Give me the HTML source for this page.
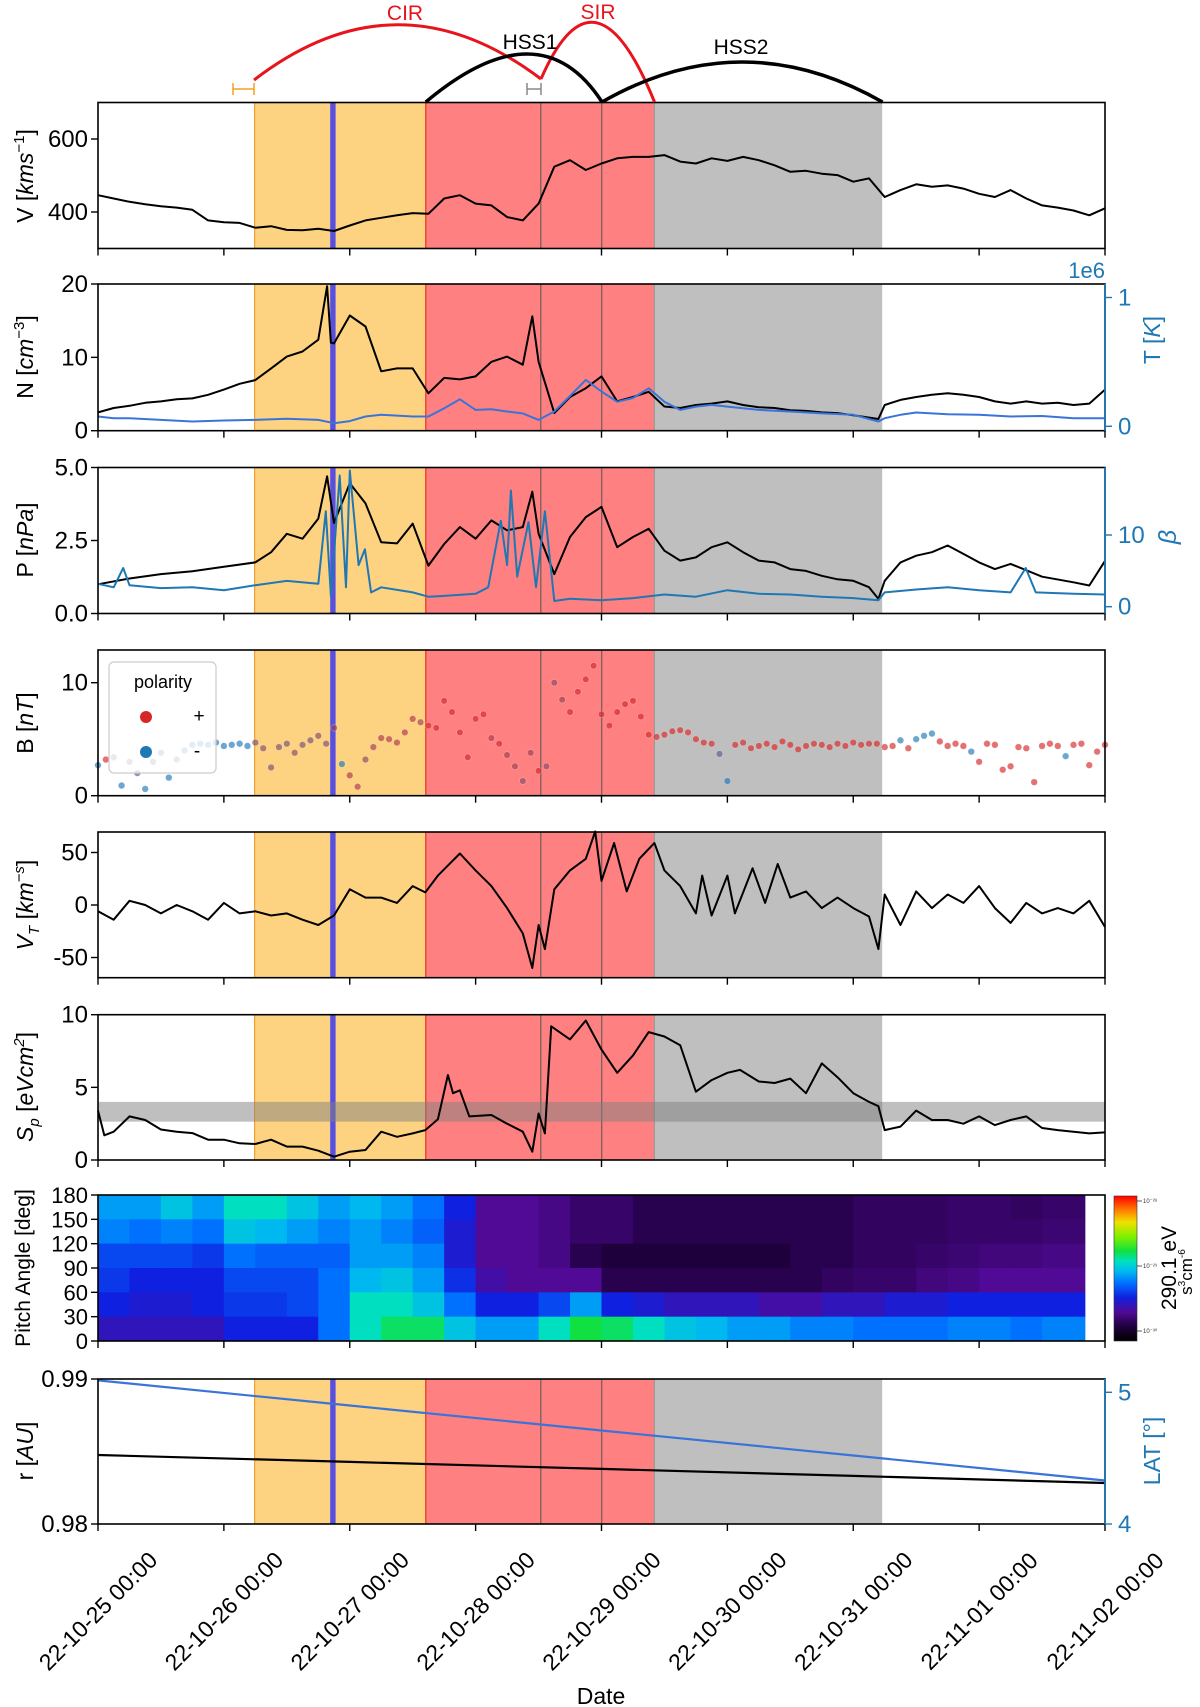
<!DOCTYPE html>
<html><head><meta charset="utf-8"><title>Solar wind overview</title>
<style>
html,body{margin:0;padding:0;background:#fff;}
svg{display:block;font-family:"Liberation Sans","DejaVu Sans",sans-serif;}
</style></head>
<body>
<svg id="chart" width="1200" height="1707" viewBox="0 0 1200 1707" xmlns="http://www.w3.org/2000/svg">
<defs>
<linearGradient id="cmap" x1="0" y1="1" x2="0" y2="0">
<stop offset="0" stop-color="#000000"/><stop offset="0.1" stop-color="#1e003c"/><stop offset="0.2" stop-color="#500a96"/><stop offset="0.3" stop-color="#1020e0"/><stop offset="0.4" stop-color="#0070ff"/><stop offset="0.48" stop-color="#00b8f0"/><stop offset="0.55" stop-color="#00e0c0"/><stop offset="0.62" stop-color="#10e040"/><stop offset="0.72" stop-color="#80f000"/><stop offset="0.82" stop-color="#f0e000"/><stop offset="0.9" stop-color="#ff8000"/><stop offset="1" stop-color="#ff0000"/>
</linearGradient>
</defs>
<g id="annot">
<path d="M254,80 Q397,-30 541,79" fill="none" stroke="#e8141c" stroke-width="3"/>
<path d="M541,79 Q595,-45 654.5,102" fill="none" stroke="#e8141c" stroke-width="3"/>
<path d="M425.8,102 Q540,6 602,102" fill="none" stroke="#000" stroke-width="3.5"/>
<path d="M602,102 Q742,22 882.5,102" fill="none" stroke="#000" stroke-width="3.5"/>
<text x="405" y="20" font-size="21" fill="#e8141c" text-anchor="middle">CIR</text>
<text x="598" y="19" font-size="21" fill="#e8141c" text-anchor="middle">SIR</text>
<text x="530" y="49" font-size="21" fill="#000" text-anchor="middle">HSS1</text>
<text x="741" y="54" font-size="21" fill="#000" text-anchor="middle">HSS2</text>
<path d="M233,89 H254 M233,83 V95 M254,83 V95" stroke="#f5a020" stroke-width="1.5" fill="none"/>
<path d="M527,89 H541 M527,83 V95 M541,83 V95" stroke="#888" stroke-width="1.5" fill="none"/>
</g>
</svg>
<script>
// ---------- data ----------
const vStep = 0.125;
const vValues = [446,437,428,421,416,412,406,377,372,370,357,361,351,350,354,348,363,377,384,391,397,395,437,446,423,418,386,377,423,524,542,515,533,547,551,551,556,538,533,547,540,551,542,528,510,513,505,501,483,492,441,460,476,469,473,464,450,441,460,437,418,412,404,391,410];

const nTimes = [0,0.125,0.25,0.375,0.5,0.625,0.75,0.875,1,1.125,1.25,1.375,1.5,1.625,1.75,1.82,1.85,1.875,2,2.125,2.25,2.375,2.5,2.625,2.75,2.875,3,3.125,3.25,3.375,3.45,3.5,3.625,3.75,3.875,4,4.125,4.25,4.375,4.5,4.625,4.75,4.875,5,5.125,5.25,5.375,5.5,5.625,5.75,5.875,6,6.2,6.25,6.375,6.5,6.625,6.75,6.875,7,7.125,7.25,7.375,7.5,7.625,7.75,7.875,8];
const nValues = [2.5,3.1,3.4,3.8,4.0,4.3,4.4,4.9,5.6,6.4,6.9,8.5,10.1,10.8,12.4,19.7,12.0,11.9,15.7,14.2,8.1,8.5,8.5,5.1,7.2,7.0,7.4,9.4,10.1,9.0,15.6,9.4,2.4,4.6,5.8,7.4,4.0,4.6,5.3,3.3,3.1,3.5,3.7,4.0,3.5,3.2,3.1,2.8,2.7,2.5,2.4,2.1,1.6,3.5,4.2,4.6,4.9,5.1,4.9,4.6,4.0,3.7,4.0,3.7,3.8,3.5,3.7,5.6];

const tTimes = [0,0.125,0.25,0.5,0.75,1,1.25,1.5,1.75,1.875,2,2.125,2.25,2.5,2.625,2.75,2.875,3,3.125,3.25,3.375,3.5,3.625,3.75,3.875,4,4.125,4.25,4.375,4.5,4.625,4.75,4.875,5,5.125,5.25,5.5,5.75,6,6.2,6.25,6.375,6.5,6.75,7,7.25,7.5,7.75,8];
const tValues = [0.076,0.063,0.063,0.05,0.037,0.045,0.05,0.058,0.05,0.024,0.04,0.076,0.089,0.076,0.076,0.14,0.21,0.127,0.133,0.115,0.10,0.05,0.115,0.235,0.36,0.27,0.19,0.22,0.295,0.19,0.127,0.153,0.166,0.153,0.14,0.127,0.115,0.10,0.089,0.037,0.063,0.089,0.107,0.094,0.089,0.076,0.08,0.063,0.063];

const pTimes = [0,0.25,0.5,0.75,1,1.25,1.375,1.5,1.625,1.75,1.82,1.875,2,2.125,2.25,2.375,2.5,2.625,2.75,2.875,3,3.125,3.25,3.375,3.45,3.5,3.625,3.75,3.875,4,4.125,4.25,4.375,4.5,4.625,4.75,4.875,5,5.125,5.25,5.375,5.5,5.625,5.75,5.875,6,6.125,6.2,6.25,6.375,6.5,6.625,6.75,6.875,7,7.125,7.25,7.5,7.75,7.875,8];
const pValues = [1.0,1.2,1.35,1.45,1.6,1.75,2.1,2.73,2.56,3.25,4.7,3.1,4.46,3.77,2.44,2.4,3.08,1.64,2.38,2.96,2.56,3.19,2.85,2.96,4.17,2.73,1.35,2.62,3.3,3.65,2.27,2.62,2.9,2.15,1.81,1.92,2.27,2.44,2.1,1.81,1.75,1.52,1.46,1.29,1.17,1.12,0.9,0.5,1.12,1.75,1.98,2.1,2.33,2.04,1.75,1.52,1.7,1.26,1.07,0.96,1.8];

const betaTimes = [0,0.125,0.2,0.25,0.5,0.75,1,1.25,1.5,1.75,1.81,1.85,1.92,1.97,2,2.07,2.12,2.17,2.25,2.5,2.625,2.75,3,3.1,3.2,3.25,3.28,3.33,3.42,3.48,3.55,3.625,3.75,4,4.25,4.5,4.75,5,5.25,5.5,5.75,6,6.2,6.25,6.5,6.75,7,7.25,7.37,7.45,7.75,8];
const betaValues = [3.2,2.7,5.4,3.0,2.6,2.7,2.3,3.0,3.6,3.2,13.3,1.5,18.3,2.7,19,5.8,8,2,2.7,2.0,1.4,1.5,1.8,2.7,12,5.8,16.2,4.2,11.8,2.7,13.3,0.8,1.1,0.9,1.2,1.7,1.4,2.3,1.8,1.7,1.4,1.2,0.9,2.0,2.4,2.7,2.3,2.0,5.4,2.0,1.8,1.7];

const bStep = 0.0625;
const bValues = [2.7,3.2,3.4,0.9,3.0,2.0,0.6,3.0,
 3.8,1.6,3.2,4.0,4.5,4.6,4.5,4.7,4.4,4.5,4.6,4.4,
 4.7,4.2,2.5,4.3,4.6,3.8,4.5,4.9,5.3,4.6,
 6.0,2.8,
 1.8,0.8,3.2,4.3,5.1,5.0,4.7,5.6,6.8,6.5,
 6.2,6.0,8.4,7.4,5.6,3.4,6.8,7.2,5.1,4.6,3.6,2.6,1.3,3.8,
 2.2,2.6,10.0,8.5,7.4,9.2,10.3,11.5,
 7.2,6.2,7.4,8.1,8.4,7.0,5.4,
 5.2,5.4,5.7,5.8,5.6,5.0,4.7,4.6,3.7,1.3,4.5,4.7,4.2,4.4,4.6,4.3,4.8,4.5,4.1,4.4,4.6,4.5,4.3,4.6,4.4,4.7,4.5,4.6,
 4.6,4.3,4.4,4.9,4.2,5.0,5.3,5.5,4.8,4.4,4.6,4.4,3.9,3.0,4.6,4.5,2.3,2.6,4.3,4.2,1.2,4.4,4.6,4.4,3.5,4.5,4.6,2.7,3.9,4.5];
const bPolarity = [0,1,0.5,0,0.4,0.3,0,0.3,
 0.3,0,0.2,0,0,0,0,0,0,0,0,0,
 0.5,0.6,0.5,0.5,0.5,0.6,0.5,0.5,0.6,0.5,
 0.7,0,
 0.8,0.8,0.6,0.7,0.8,0.8,0.8,0.8,0.8,0.7,
 1,1,1,1,1,1,1,1,0.8,1,0.7,0.7,0.6,0.7,
 1,0.6,0.6,0.7,1,1,1,1,
 1,1,1,1,1,1,1,
 1,1,1,1,1,1,1,1,0.3,0,1,1,1,1,1,1,1,1,1,1,1,1,1,1,1,1,1,1,
 1,1,1,0,1,0,0,0,1,1,1,1,0,1,1,1,1,1,1,1,1,1,1,1,0,1,1,1,1,1];

const vtTimes = [0,0.125,0.25,0.375,0.5,0.625,0.75,0.875,1,1.125,1.25,1.375,1.5,1.625,1.75,1.875,2,2.125,2.25,2.375,2.5,2.6,2.7,2.875,3,3.125,3.25,3.375,3.45,3.5,3.55,3.625,3.75,3.875,3.95,4,4.1,4.2,4.3,4.42,4.5,4.625,4.75,4.8,4.875,5,5.06,5.2,5.3,5.4,5.5,5.625,5.75,5.875,6,6.125,6.2,6.25,6.375,6.5,6.625,6.75,6.875,7,7.125,7.25,7.375,7.5,7.625,7.75,7.875,8];
const vtValues = [-6,-14,4,0,-8,0,-6,-14,2,-8,-6,-10,-8,-14,-19,-10,15,7,7,2,18,12,28,49,33,18,-3,-27,-60,-19,-42,15,33,44,70,23,59,13,44,59,33,18,-8,28,-10,28,-8,35,2,39,7,13,-3,7,-3,-11,-42,10,-19,13,-3,10,2,18,-3,-17,2,-8,-3,-8,4,-21];

const spTimes = [0,0.05,0.125,0.25,0.375,0.5,0.625,0.75,0.875,1,1.125,1.25,1.375,1.5,1.625,1.75,1.875,2,2.125,2.25,2.375,2.5,2.6,2.7,2.78,2.82,2.875,2.95,3.125,3.25,3.375,3.45,3.5,3.55,3.6,3.75,3.875,4,4.125,4.25,4.375,4.5,4.625,4.75,4.875,5,5.1,5.25,5.375,5.5,5.625,5.75,5.875,6,6.125,6.2,6.25,6.375,6.5,6.625,6.75,6.875,7,7.125,7.25,7.375,7.5,7.625,7.75,7.875,8];
const spValues = [3.4,1.7,1.95,3.0,2.75,2.1,1.95,1.85,1.4,1.4,1.15,1.1,1.4,0.92,0.92,0.64,0.23,0.57,0.69,1.95,1.6,1.83,2.06,2.8,5.85,4.6,4.8,3.0,3.1,2.5,1.95,0.57,3.2,1.83,9.2,8.3,9.6,7.6,6.0,7.2,8.8,8.5,7.9,4.7,5.5,6.0,6.2,5.4,5.3,5.6,4.6,6.65,5.7,4.6,4.0,3.7,2.06,2.3,3.4,2.75,2.75,2.5,3.0,2.4,2.75,3.0,2.2,2.06,1.95,1.83,1.9];
const spBand = [2.64, 4.0];

// pitch-angle distribution: columns every 0.25 day, rows top (150-180) to bottom (0-30), normalized log flux
const pitchColStep = 0.25;
const pitchEnd = 7.84;
const pitchBinCenters = [165,135,105,75,45,15];
const pitchGrid = [
 [0.45,0.42,0.35,0.33,0.3,0.25],[0.45,0.4,0.35,0.3,0.28,0.25],[0.5,0.42,0.35,0.3,0.28,0.25],[0.45,0.4,0.33,0.3,0.3,0.25],
 [0.55,0.5,0.4,0.35,0.33,0.3],[0.55,0.48,0.38,0.35,0.33,0.3],[0.5,0.45,0.38,0.35,0.35,0.3],[0.45,0.42,0.38,0.4,0.4,0.4],
 [0.48,0.45,0.45,0.48,0.55,0.55],[0.45,0.42,0.45,0.5,0.55,0.6],[0.4,0.38,0.42,0.45,0.5,0.6],[0.3,0.28,0.28,0.32,0.4,0.5],
 [0.2,0.2,0.2,0.22,0.3,0.45],[0.2,0.2,0.2,0.2,0.3,0.45],[0.18,0.18,0.18,0.2,0.35,0.55],[0.15,0.15,0.12,0.2,0.45,0.62],
 [0.15,0.15,0.1,0.12,0.3,0.6],[0.12,0.12,0.1,0.12,0.28,0.55],[0.12,0.12,0.1,0.12,0.25,0.5],[0.12,0.12,0.1,0.12,0.25,0.48],
 [0.12,0.12,0.1,0.12,0.25,0.45],[0.12,0.12,0.1,0.12,0.22,0.45],[0.12,0.12,0.12,0.12,0.22,0.42],[0.12,0.12,0.12,0.14,0.25,0.42],
 [0.14,0.14,0.14,0.15,0.25,0.4],[0.14,0.14,0.14,0.15,0.28,0.4],[0.14,0.14,0.15,0.17,0.28,0.4],[0.15,0.15,0.16,0.18,0.3,0.42],
 [0.15,0.15,0.17,0.2,0.3,0.42],[0.14,0.15,0.17,0.2,0.3,0.4],[0.15,0.16,0.18,0.2,0.3,0.42],[0.15,0.16,0.18,0.2,0.3,0.42]];

const rTimes = [0,2,4,6,8];
const rValues = [0.98476,0.98428,0.98380,0.98332,0.98283];
const latValues = [5.09,4.90,4.71,4.52,4.33];

const dateLabels = ['22-10-25 00:00','22-10-26 00:00','22-10-27 00:00','22-10-28 00:00','22-10-29 00:00','22-10-30 00:00','22-10-31 00:00','22-11-01 00:00','22-11-02 00:00'];
const regionStarts = [1.244, 2.604, 4.42];
const regionEnds = [2.604, 4.42, 6.23];
const regionNames = ['cir-region','sir-region','hss-region'];
const eventLines = [3.518, 4.002];
const spikeTime = 1.866;

// ---------- rendering ----------
const svg = document.getElementById('chart');
const NS = 'http://www.w3.org/2000/svg';
function mk(tag, attrs, parent){const e=document.createElementNS(NS,tag);for(const k in attrs)e.setAttribute(k,attrs[k]);(parent||svg).appendChild(e);return e;}
function lin(d0,d1,p0,p1){return v=>p0+(v-d0)*(p1-p0)/(d1-d0);}
const X0=98, X1=1105;
const xs = lin(0,8,X0,X1);
const BLUE='#1f77b4';
const regionFill = ['#fdd382','#ff8080','#bfbfbf'];
const regionEdge = ['#f0a030','#e83020','#999'];

function panel(name, top, bottom, withRegions){
  const g = mk('g',{});
  
  
  if(withRegions){
    for(let i=0;i<regionStarts.length;i++){
      const r = mk('rect',{x:xs(regionStarts[i]),y:top,width:xs(regionEnds[i])-xs(regionStarts[i]),height:bottom-top,fill:regionFill[i]},g);
      
      
      const e = mk('line',{x1:xs(regionStarts[i]),x2:xs(regionStarts[i]),y1:top,y2:bottom,stroke:regionEdge[i],'stroke-width':1.2},g);
      
      
    }
    for(const t of eventLines){
      const l = mk('line',{x1:xs(t),x2:xs(t),y1:top,y2:bottom,stroke:'#555','stroke-width':1},g);
      
      
    }
    const s = mk('rect',{x:xs(spikeTime)-2.5,y:top,width:5,height:bottom-top,fill:'#5a4fd8',stroke:'#7a6fe0','stroke-width':0.8},g);
    
    
  }
  return g;
}
function frame(g, top, bottom, rightColor){
  const f = mk('rect',{x:X0,y:top,width:X1-X0,height:bottom-top,fill:'none',stroke:'#000','stroke-width':1.6},g);
  
  
  if(rightColor){
    const r = mk('line',{x1:X1,x2:X1,y1:top,y2:bottom,stroke:rightColor,'stroke-width':1.8},g);
    
    
  }
  for(let d=0; d<=8; d++){
    const t = mk('line',{x1:xs(d),x2:xs(d),y1:bottom,y2:bottom+7,stroke:'#000','stroke-width':1.4},g);
    
    
  }
}
function yTicks(g, vals, labels, ys, side, color, fs){
  for(let i=0;i<vals.length;i++){
    const y = ys(vals[i]);
    const x = side==='left'?X0:X1;
    const t = mk('line',{x1:x,x2:side==='left'?x-7:x+7,y1:y,y2:y,stroke:color,'stroke-width':1.4},g);
    
    
    const tx = mk('text',{x:side==='left'?x-10:x+13,y:y+8,'font-size':fs||24,fill:color,'text-anchor':side==='left'?'end':'start'},g);
    tx.textContent = labels[i];
    
    
  }
}
function line(g, times, vals, ys, color, w, name){
  const pts = times.map((t,i)=>xs(t).toFixed(1)+','+ys(vals[i]).toFixed(1)).join(' ');
  const p = mk('polyline',{points:pts,fill:'none',stroke:color,'stroke-width':w||2,'stroke-linejoin':'round'},g);
  
  
  return p;
}
function yLabel(g, x, y, html, color, fs, name){
  const t = mk('text',{x:x,y:y,'font-size':fs||23,fill:color||'#000','text-anchor':'middle',transform:'rotate(-90 '+x+' '+y+')'},g);
  t.innerHTML = html;
  
  
}
const annot = document.getElementById('annot');

// Panel 1: V
{
  const top=102.5, bot=248.5, ys=lin(300,700,bot,top);
  const g = panel('speed-panel', top, bot, true);
  line(g, vValues.map((v,i)=>i*vStep), vValues, ys, '#000', 2, 'speed-line');
  frame(g, top, bot);
  yTicks(g, [400,600], ['400','600'], ys, 'left', '#000');
  yLabel(g, 33, 176, 'V [<tspan font-style="italic">kms</tspan><tspan font-size="15" dy="-9">−1</tspan><tspan dy="9">]</tspan>', '#000', 23, 'speed-axis-title');
}
svg.appendChild(annot);
// Panel 2: N & T
{
  const top=284, bot=430.7, ys=lin(0,20,bot,top), yt=lin(0,1,426.3,297.5);
  const g = panel('density-panel', top, bot, true);
  line(g, nTimes, nValues, ys, '#000', 2, 'density-line');
  line(g, tTimes, tValues, yt, '#3a74d8', 2, 'temperature-line');
  frame(g, top, bot, BLUE);
  yTicks(g, [0,10,20], ['0','10','20'], ys, 'left', '#000');
  yTicks(g, [0,1], ['0','1'], yt, 'right', BLUE);
  yLabel(g, 33, 357, 'N [<tspan font-style="italic">cm</tspan><tspan font-size="15" dy="-9">−3</tspan><tspan dy="9">]</tspan>', '#000', 23, 'density-axis-title');
  yLabel(g, 1160, 340, 'T [<tspan font-style="italic">K</tspan>]', BLUE, 23, 'temperature-axis-title');
  const e = mk('text',{x:1105,y:278,'font-size':22,fill:BLUE,'text-anchor':'end'},g);
  e.textContent='1e6';
  
  
}
// Panel 3: P & beta
{
  const top=467.5, bot=613.5, ys=lin(0,5,bot,top), yb=lin(0,10,606.7,535);
  const g = panel('pressure-panel', top, bot, true);
  line(g, pTimes, pValues, ys, '#000', 2, 'pressure-line');
  line(g, betaTimes, betaValues, yb, BLUE, 2, 'beta-line');
  frame(g, top, bot, BLUE);
  yTicks(g, [0,2.5,5], ['0.0','2.5','5.0'], ys, 'left', '#000');
  yTicks(g, [0,10], ['0','10'], yb, 'right', BLUE);
  yLabel(g, 33, 540, 'P [<tspan font-style="italic">nPa</tspan>]', '#000', 23, 'pressure-axis-title');
  yLabel(g, 1176, 537, '<tspan font-style="italic">β</tspan>', BLUE, 25, 'beta-axis-title');
}
// Panel 4: B scatter
{
  const top=650, bot=795.7, ys=lin(0,10,bot,682.7);
  const g = panel('field-panel', top, bot, true);
  function polColor(p){
    const a=[31,119,180], b=[214,39,40];
    return 'rgb('+a.map((c,i)=>Math.round(c+(b[i]-c)*p)).join(',')+')';
  }
  for(let i=0;i<bValues.length;i++){
    const c = mk('circle',{cx:xs(i*bStep),cy:ys(bValues[i]),r:3.3,fill:polColor(bPolarity[i]),'fill-opacity':0.65,stroke:'#fff','stroke-width':0.4,'stroke-opacity':0.6},g);
    
    
  }
  frame(g, top, bot);
  yTicks(g, [0,10], ['0','10'], ys, 'left', '#000');
  yLabel(g, 33, 723, 'B [<tspan font-style="italic">nT</tspan>]', '#000', 23, 'field-axis-title');
  const lg = mk('g',{},g);
  
  
  const lb = mk('rect',{x:109,y:662,width:107,height:111,rx:5,fill:'#fff','fill-opacity':0.8,stroke:'#ccc','stroke-width':1.2},lg);
  
  
  const lt = mk('text',{x:163,y:688,'font-size':18,'text-anchor':'middle',fill:'#000'},lg);
  lt.textContent='polarity';
  
  
  const d1 = mk('circle',{cx:146,cy:717,r:6,fill:'#d62728'},lg);
  
  
  const t1 = mk('text',{x:199,y:722,'font-size':19,'text-anchor':'middle'},lg);
  t1.textContent='+';
  
  
  const d2 = mk('circle',{cx:146,cy:752,r:6,fill:'#1f77b4'},lg);
  
  
  const t2 = mk('text',{x:197,y:757,'font-size':19,'text-anchor':'middle'},lg);
  t2.textContent='-';
  
  
}
// Panel 5: VT
{
  const top=832, bot=977.7, ys=lin(-50,50,957.5,852.5);
  const g = panel('tangential-speed-panel', top, bot, true);
  line(g, vtTimes, vtValues, ys, '#000', 2, 'tangential-speed-line');
  frame(g, top, bot);
  yTicks(g, [-50,0,50], ['-50','0','50'], ys, 'left', '#000');
  yLabel(g, 33, 905, '<tspan font-style="italic">V</tspan><tspan font-size="15" dy="6" font-style="italic">T</tspan><tspan dy="-6"> [</tspan><tspan font-style="italic">km</tspan><tspan font-size="15" dy="-9" font-style="italic">−s</tspan><tspan dy="9">]</tspan>', '#000', 23, 'tangential-speed-axis-title');
}
// Panel 6: Sp
{
  const top=1014.7, bot=1160, ys=lin(0,10,bot,top);
  const g = panel('entropy-panel', top, bot, true);
  const band = mk('rect',{x:X0,y:ys(spBand[1]),width:X1-X0,height:ys(spBand[0])-ys(spBand[1]),fill:'#808080','fill-opacity':0.5},g);
  
  
  line(g, spTimes, spValues, ys, '#000', 2, 'entropy-line');
  frame(g, top, bot);
  yTicks(g, [0,5,10], ['0','5','10'], ys, 'left', '#000');
  yLabel(g, 33, 1087, '<tspan font-style="italic">S</tspan><tspan font-size="15" dy="6" font-style="italic">p</tspan><tspan dy="-6"> [</tspan><tspan font-style="italic">eVcm</tspan><tspan font-size="15" dy="-9" font-style="italic">2</tspan><tspan dy="9">]</tspan>', '#000', 23, 'entropy-axis-title');
}
// Panel 7: pitch angle
{
  const top=1195, bot=1341, ys=lin(0,180,bot,top);
  const g = panel('pitch-angle-panel', top, bot, false);
  const stops=[[0,[0,0,0]],[0.1,[30,0,60]],[0.2,[80,10,150]],[0.3,[16,32,224]],[0.4,[0,112,255]],[0.48,[0,184,240]],[0.55,[0,224,192]],[0.62,[16,224,64]],[0.72,[128,240,0]],[0.82,[240,224,0]],[0.9,[255,128,0]],[1,[255,0,0]]];
  function cmap(v){
    for(let i=1;i<stops.length;i++){ if(v<=stops[i][0]){ const a=stops[i-1],b=stops[i],f=(v-a[0])/(b[0]-a[0]); return 'rgb('+a[1].map((c,k)=>Math.round(c+(b[1][k]-c)*f)).join(',')+')'; } }
    return 'rgb(255,0,0)';
  }
  for(let c=0;c<pitchGrid.length;c++){
    const t0=c*pitchColStep, t1=Math.min(pitchEnd,(c+1)*pitchColStep);
    for(let r=0;r<pitchBinCenters.length;r++){
      const pa=pitchBinCenters[r];
      const cell = mk('rect',{x:xs(t0),y:ys(pa+15),width:xs(t1)-xs(t0)+0.5,height:ys(pa-15)-ys(pa+15)+0.5,fill:cmap(pitchGrid[c][r])},g);
      
      
    }
  }
  frame(g, top, bot);
  yTicks(g, [0,30,60,90,120,150,180], ['0','30','60','90','120','150','180'], ys, 'left', '#000', 22);
  yLabel(g, 30, 1268, 'Pitch Angle [deg]', '#000', 21, 'pitch-angle-axis-title');
  const cb = mk('rect',{x:1114,y:1196,width:23,height:145,fill:'url(#cmap)',stroke:'#333','stroke-width':0.6},g);
  
  
  const cbTicks=[1201,1266,1331], cbLabels=['10⁻²⁸','10⁻²⁹','10⁻³⁰'];
  for(let i=0;i<3;i++){
    const tk = mk('line',{x1:1137,x2:1142,y1:cbTicks[i],y2:cbTicks[i],stroke:'#333','stroke-width':0.8},g);
    
    
    const tl = mk('text',{x:1143,y:cbTicks[i]+2,'font-size':6,fill:'#333'},g);
    tl.textContent = cbLabels[i];
    
    
  }
  yLabel(g, 1176, 1268, '290.1 eV', '#000', 21, 'colorbar-title');
  yLabel(g, 1192, 1272, 's<tspan font-size="10" dy="-7">3</tspan><tspan dy="7">cm</tspan><tspan font-size="10" dy="-7">-6</tspan>', '#000', 17, 'colorbar-units');
}
// Panel 8: r & LAT
{
  const top=1379, bot=1524, ys=lin(0.98,0.99,bot,top), yl=lin(4,5,1524,1392.3);
  const g = panel('distance-panel', top, bot, true);
  line(g, rTimes, rValues, ys, '#000', 2.2, 'distance-line');
  line(g, rTimes, latValues, yl, '#3a74d8', 2.2, 'latitude-line');
  frame(g, top, bot, BLUE);
  yTicks(g, [0.98,0.99], ['0.98','0.99'], ys, 'left', '#000');
  yTicks(g, [4,5], ['4','5'], yl, 'right', BLUE);
  yLabel(g, 33, 1451, 'r [<tspan font-style="italic">AU</tspan>]', '#000', 23, 'distance-axis-title');
  yLabel(g, 1160, 1451, 'LAT [°]', BLUE, 23, 'latitude-axis-title');
  for(let d=0; d<dateLabels.length; d++){
    const cx=xs(d), cy=1611;
    const t = mk('text',{x:cx,y:cy+8,'font-size':23,'text-anchor':'middle',transform:'rotate(-45 '+cx+' '+cy+')'},g);
    t.textContent = dateLabels[d];
    
    
  }
  const xt = mk('text',{x:601,y:1704,'font-size':23,'text-anchor':'middle'},g);
  xt.textContent='Date';
  
  
}
</script>
</body></html>
